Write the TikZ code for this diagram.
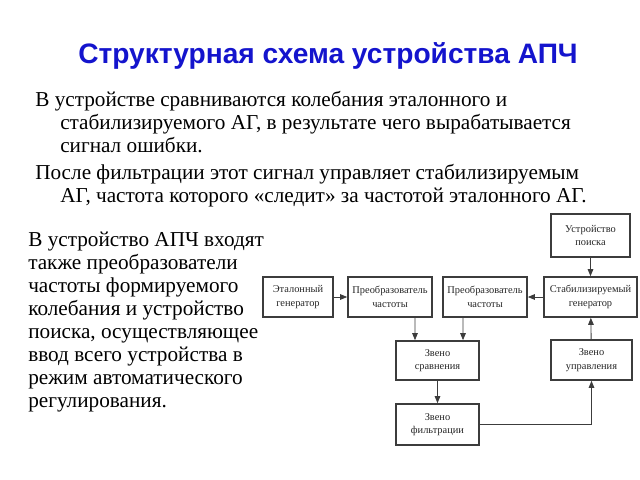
\documentclass[tikz,border=0pt]{standalone}
\usepackage{fontspec}
\setmainfont{Liberation Serif}
\newfontfamily\titlefont{Liberation Sans}
\usetikzlibrary{arrows.meta}
\definecolor{titleblue}{RGB}{20,20,205}
\definecolor{boxgray}{RGB}{60,60,60}

\begin{document}
\begin{tikzpicture}[x=0.025cm,y=-0.025cm,
	blok/.style={draw=boxgray, line width=1.2pt, align=center, inner sep=0pt,
		font=\fontsize{7.4}{9.5}\selectfont, text=black!85},
	strelka/.style={draw=boxgray, line width=0.6pt, -{Triangle[length=5pt,width=4pt]}},
	tekst/.style={align=left, inner sep=0pt, font=\fontsize{15.1}{16.3}\selectfont}]
	\useasboundingbox (0,0) rectangle (640,480);
	
	\node[font=\titlefont\bfseries\fontsize{20}{22}\selectfont, text=titleblue] (title) at (328,56) {Структурная схема устройства АПЧ};
	
	\node[tekst, anchor=north west] (abz1) at (35,91) {В устройстве сравниваются колебания эталонного и\\
		\hspace*{0.625cm}стабилизируемого АГ, в результате чего вырабатывается\\
		\hspace*{0.625cm}сигнал ошибки.};
	\node[tekst, anchor=north west] (abz2) at (35,164) {После фильтрации этот сигнал управляет стабилизируемым\\
		\hspace*{0.625cm}АГ, частота которого «следит» за частотой эталонного АГ.};
	\node[tekst, anchor=north west] (abz3) at (28,232) {В устройство АПЧ входят\\
		также преобразователи\\
		частоты формируемого\\
		колебания и устройство\\
		поиска, осуществляющее\\
		ввод всего устройства в\\
		режим автоматического\\
		регулирования.};
	
	% blocks
	\node[blok, minimum width=1.975cm, minimum height=1.075cm] (poisk) at (590.5,235.5) {Устройство\\поиска};
	\node[blok, minimum width=1.75cm, minimum height=1cm] (etalon) at (298,297) {Эталонный\\генератор};
	\node[blok, minimum width=2.1cm, minimum height=1cm] (preobrA) at (390,297) {Преобразователь\\частоты};
	\node[blok, minimum width=2.1cm, minimum height=1cm] (preobrB) at (485,297) {Преобразователь\\частоты};
	\node[blok, minimum width=2.325cm, minimum height=1cm] (stab) at (590.5,297) {Стабилизируемый\\генератор};
	\node[blok, minimum width=2.075cm, minimum height=0.975cm] (sravn) at (437.5,360.5) {Звено\\сравнения};
	\node[blok, minimum width=2.025cm, minimum height=1cm] (uprav) at (591.5,360) {Звено\\управления};
	\node[blok, minimum width=2.075cm, minimum height=1.025cm] (filtr) at (437.5,424.5) {Звено\\фильтрации};
	
	% links
	\draw[strelka] (poisk) -- (stab);
	\draw[strelka] (etalon) -- (preobrA);
	\draw[strelka] (stab) -- (preobrB);
	\draw[strelka] ([xshift=0.625cm]preobrA.south) -- ([xshift=-0.5625cm]sravn.north);
	\draw[strelka] ([xshift=-0.55cm]preobrB.south) -- ([xshift=0.6375cm]sravn.north);
	\draw[strelka] (sravn) -- (filtr);
	\draw[strelka] (filtr.east) -| (uprav.south);
	\draw[strelka] (uprav) -- (stab);
\end{tikzpicture}
\end{document}
